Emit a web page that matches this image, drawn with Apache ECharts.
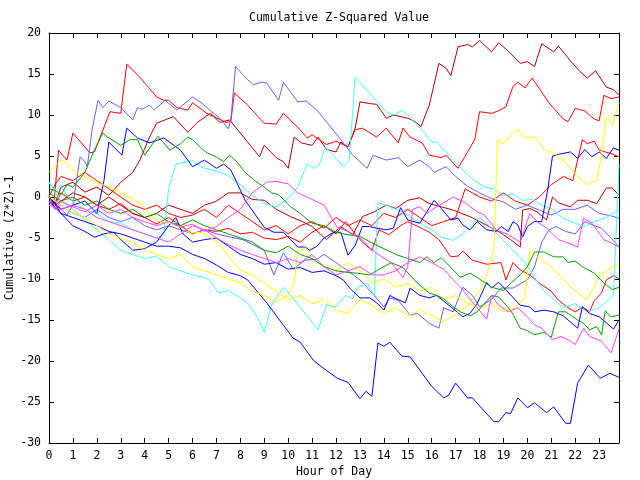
<!DOCTYPE html>
<html><head><meta charset="utf-8">
<script src="https://cdn.jsdelivr.net/npm/echarts@6/dist/echarts.min.js"></script>
<style>html,body{margin:0;padding:0;background:#fff}#c{width:640px;height:480px}</style>
</head><body><div id="c"></div>
<script>
// Each series: [hour, cumulative (Z*Z)-1]
const dr1 = [[0,0],[0.25,-0.8],[0.5,1.2],[1,1.8],[1.5,0.6],[2,1.2],[2.5,0.2],[3,1.8],[3.5,3],[3.8,4.5],[4.2,7.3],[4.5,9.0],[5.2,9.8],[5.8,7.9],[6.2,9.1],[6.75,10.2],[7.15,9.1],[7.55,9.4],[8.0,7.8],[8.5,6.0],[8.8,4.9],[9.0,6.3],[9.5,4.8],[9.8,4.3],[10.0,3.5],[10.25,7.3],[10.55,6.6],[11.0,6.3],[11.25,7.3],[11.6,5.8],[12.0,5.5],[12.2,6.7],[12.5,6.1],[12.8,8.4],[13.0,11.6],[13.4,11.4],[13.7,11.3],[14.1,9.6],[14.4,10.0],[15.0,9.6],[15.3,9.2],[15.55,8.6],[15.9,11.2],[16.3,16.3],[16.6,15.7],[16.8,14.8],[17.1,18.3],[17.5,18.6],[17.7,18.3],[18.0,19.1],[18.5,17.7],[18.8,18.8],[19.2,17.8],[19.7,16.3],[20.0,16.5],[20.3,15.9],[20.6,18.7],[21.1,17.7],[21.3,18.4],[21.8,16.6],[22.2,15.3],[22.5,14.5],[22.85,15.4],[23.3,13.4],[23.6,13.1],[23.83,12.4]];
const r1 = [[0,0],[0.2,-1],[0.4,5.7],[0.75,4.5],[1.0,7.8],[1.7,5.4],[1.9,5.5],[2.55,10.4],[3.0,10.2],[3.25,16.2],[3.8,14.6],[4.5,12.2],[4.8,11.8],[5.0,11.8],[5.35,10.9],[5.8,10.6],[6.0,11.5],[6.6,10.2],[7.4,9.1],[7.6,9.2],[7.75,12.7],[8.3,11.2],[9.0,9.0],[9.5,8.9],[9.8,10.2],[10.5,8.2],[10.8,7.2],[11.0,7.6],[11.3,7.0],[11.6,6.4],[12.0,6.8],[12.5,6.1],[12.8,8.2],[13.1,8.4],[13.7,7.3],[14.1,8.4],[14.6,6.6],[14.8,8.4],[15.1,7.3],[15.6,6.6],[15.9,5.1],[16.4,4.8],[16.6,5.1],[17.1,3.5],[17.3,4.5],[17.8,7],[18.0,10.4],[18.5,10.2],[18.8,10.5],[19.1,11],[19.4,13.5],[19.6,14.0],[19.9,13.3],[20.2,14.5],[20.9,11.5],[21.5,9.5],[21.7,9.2],[22.0,10.8],[22.4,10.5],[22.8,9.5],[23.0,9.3],[23.2,12.4],[23.5,12.0],[23.83,12.2]];
const r2 = [[0,0],[0.25,-1],[0.5,0.5],[1,-0.5],[1.5,0],[2,-1],[2.5,-1.5],[3,-0.8],[3.5,-2],[4,-2.5],[4.5,-3.3],[5,-2.5],[5.5,-3.5],[6,-4.5],[6.5,-4.0],[7,-4.2],[7.5,-3.8],[8,-4.5],[8.5,-4.3],[9,-5.0],[9.5,-5.2],[10,-4.8],[10.5,-5.5],[11,-4.3],[11.5,-3.5],[12,-4.5],[12.4,-3.0],[12.8,-4.5],[13.1,-5.5],[13.5,-6.5],[13.8,-4.0],[14.2,-4.6],[14.7,-3.5],[15,-3.0],[15.5,-3.7],[15.9,-4.3],[16.3,-5.2],[16.8,-7.3],[17.1,-7.2],[17.3,-6.6],[17.7,-7.7],[18.3,-8.2],[18.9,-8.0],[19.1,-10.1],[19.4,-8.0],[19.7,-8.9],[20.1,-9.5],[20.5,-10.5],[21.0,-11.5],[21.3,-12.6],[21.7,-13.5],[22.0,-14.0],[22.3,-13.4],[22.6,-14.0],[22.8,-12.6],[23.1,-11.7],[23.3,-10.1],[23.6,-9.6],[23.83,-10.0]];
const r3 = [[0,0],[0.25,1.5],[0.5,2.5],[1,2],[1.5,3],[2,2],[2.5,1],[3,0],[3.5,-1],[4,-1.5],[4.5,-1],[5,-2],[5.5,-2.5],[6,-2.2],[6.5,-1.5],[7,-2.5],[7.5,-1],[8,-2],[8.5,-3],[9,-4],[9.5,-3.5],[10,-4.5],[10.5,-3.5],[11,-3],[11.5,-3.8],[12,-2.5],[12.5,-3.5],[13,-2.8],[13.5,-3.5],[14,-2.0],[14.5,-2.5],[15,-1.5],[15.5,-2.5],[16,-3.5],[16.5,-3],[17,-2.5],[17.4,1.0],[18,0],[18.5,-0.5],[19,0.5],[19.5,-0.5],[20,-1],[20.5,0.0],[21,1.5],[21.5,2.5],[21.9,2.0],[22.1,4.5],[22.3,7.0],[22.5,6.5],[22.8,6.8],[23.0,5.7],[23.5,5.3],[23.83,4.9]];
const dr2 = [[0,0],[0.25,-1],[0.5,-0.5],[1,0.5],[1.5,0],[2,-1],[2.5,0],[3,-1],[3.5,-2],[4,-2.5],[4.5,-2],[5,-1],[5.5,-1.5],[6,-2],[6.5,-1],[7,-0.5],[7.5,0.5],[8,0.5],[8.5,-0.3],[9,-0.4],[9.5,-1.5],[10.1,-2.4],[10.6,-3.0],[11.0,-3.6],[11.6,-5.2],[11.9,-4.4],[12.2,-3.6],[12.7,-4.6],[13.1,-2.4],[13.6,-1.8],[14.1,-1.0],[14.5,-1.4],[15.0,-0.4],[15.5,-0.1],[15.9,-0.8],[16.4,-1.2],[16.9,-1.6],[17.6,-2.4],[18.0,-3.0],[18.4,-3.6],[18.9,-4.4],[19.3,-5.2],[19.7,-6.1],[19.8,-1.6],[20.1,-1.4],[20.4,-1.8],[20.8,-2.8],[21.05,0.0],[21.3,-0.7],[21.8,-1.2],[22.1,-0.4],[22.5,-0.4],[22.9,-0.8],[23.3,1.1],[23.55,1.1],[23.83,0.2]];
const sb1 = [[0,0],[0.25,-1],[0.5,-1.5],[0.75,-2.2],[1.0,-1],[1.3,4.9],[1.5,4.3],[1.6,3.7],[1.8,8.2],[2.05,11.8],[2.25,10.9],[2.5,11.7],[3.0,10.9],[3.5,9.4],[3.7,10.9],[3.9,10.7],[4.2,11.2],[4.4,10.6],[4.85,11.8],[5.35,10.6],[6.0,12.2],[6.45,11.3],[6.8,10.4],[7.15,9.6],[7.5,8.3],[7.6,9.4],[7.8,15.9],[8.3,14.3],[8.55,13.7],[8.9,14.0],[9.1,13.9],[9.6,11.8],[9.8,14.0],[10.4,11.6],[10.75,11.7],[11.2,10.6],[11.7,8.8],[12.2,7.0],[12.7,5.1],[13.3,3.5],[13.55,5.1],[14.1,4.5],[14.6,4.8],[15.0,3.7],[15.5,4.5],[15.9,3.7],[16.1,3.0],[16.6,3.7],[17.0,2.5],[17.5,1.3],[18.0,0.5],[18.5,-0.2],[19.0,-0.6],[19.5,-1.5],[20.0,-1.0],[20.5,-1.6],[21.0,-2.2],[21.5,-1.5],[22.0,-1.5],[22.5,-1.0],[23.0,-2.0],[23.5,-2.3],[23.83,-2.6]];
const sb2 = [[0,0],[0.25,-1.5],[0.5,-1],[1,-2],[1.5,-2.5],[2,-1.5],[2.5,-2.5],[3,-3],[3.5,-2.5],[4,-3.5],[4.5,-4],[5,-3.5],[5.5,-4],[6,-4.5],[6.5,-4],[7,-4.5],[7.6,-4.9],[8.1,-5.2],[9.0,-6.5],[9.4,-9.5],[9.8,-6.8],[10.2,-8.8],[10.7,-7.7],[11.2,-7.6],[11.5,-7.0],[12.0,-8.0],[12.5,-9.0],[13.0,-10.1],[13.5,-11.7],[14.0,-13.4],[14.25,-12.3],[14.6,-12.6],[15.1,-14.4],[15.4,-14.2],[15.9,-15.4],[16.3,-16.0],[16.5,-13.5],[16.9,-14.0],[17.3,-11.0],[17.7,-12.0],[18.0,-13.4],[18.5,-12.5],[18.9,-11.1],[19.4,-11.1],[20.0,-10.1],[20.3,-8.5],[20.6,-5.5],[20.9,-4.0],[21.2,-3.6],[21.6,-4.2],[22.0,-4.5],[22.4,-3.0],[22.8,-3.5],[23.1,-3.8],[23.5,-5.0],[23.83,-6.1]];
const c1 = [[0,1.8],[0.25,0.8],[0.5,1.5],[0.75,0.2],[1,-0.5],[1.5,-1.5],[2,-2],[2.5,-3],[3,-3.2],[3.5,-4],[4,-4.5],[4.5,-5],[4.8,-4.6],[5.0,1.0],[5.3,4.0],[5.6,4.2],[6.0,4.4],[6.4,3.6],[7,3.2],[7.5,2.6],[8,1.5],[8.5,0.2],[9,-0.8],[9.5,-1.2],[10,-0.2],[10.4,1.2],[10.8,4.1],[11.05,3.5],[11.3,3.9],[11.55,6.1],[11.8,5.4],[12.3,3.7],[12.55,4.5],[12.8,14.6],[13.55,12.2],[14.1,10.4],[14.4,10.0],[14.8,10.6],[15.1,9.6],[15.5,8.5],[16.0,6.7],[16.2,6.7],[16.6,5.5],[16.9,4.5],[17.3,3.3],[17.7,2.2],[18.2,1.2],[18.6,1.0],[19.0,0.2],[19.4,0.4],[19.8,-0.4],[20.2,-0.3],[20.6,-1.0],[21.0,-1.4],[21.5,-2.6],[22.0,-3.2],[22.4,-3.6],[22.8,-3.0],[23.2,-2.6],[23.5,-2.2],[23.83,-1.5]];
const c2 = [[0,1.8],[0.25,0.5],[0.5,-0.5],[1,-1.5],[1.5,-2.8],[2,-4],[2.5,-5.2],[3,-6.5],[3.5,-7],[4,-7.5],[4.5,-7.2],[5,-8.5],[5.5,-9],[6,-9.5],[6.5,-9.8],[6.7,-10.1],[7.1,-11.7],[7.5,-11.4],[8,-12.3],[8.3,-12.9],[8.7,-14.6],[9.0,-16.5],[9.3,-13.2],[9.8,-11.0],[10.0,-11.6],[10.6,-13.8],[11.25,-16.2],[11.6,-13.2],[12.0,-13.4],[12.4,-12.0],[12.7,-12.4],[12.9,-11.0],[13.3,-10.5],[13.6,-12],[13.75,-0.7],[14.1,-1.0],[14.5,-1.5],[15.0,-2.2],[15.5,-3.2],[16.0,-4.0],[16.4,-4.9],[16.9,-5.3],[17.3,-4.5],[17.6,-3.6],[18.0,-2.5],[18.4,-3.5],[18.9,-5.0],[19.4,-6.5],[19.9,-8.0],[20.3,-9.8],[20.7,-11.5],[21.1,-12.5],[21.5,-13.5],[22.0,-13.0],[22.5,-14.0],[23.0,-13.5],[23.4,-12.5],[23.6,-12.0],[23.83,4.0]];
const b1 = [[0,0],[0.5,-1.5],[1,-1],[1.5,-0.5],[2,-2],[2.3,2],[2.5,6.7],[3.05,5.1],[3.25,8.4],[3.7,7.2],[4.2,6.6],[4.8,7.2],[5.5,5.7],[6.0,3.7],[6.5,4.5],[7,3.5],[7.3,4.0],[7.6,3.3],[8.2,-0.4],[9.0,-3.7],[9.4,-4.3],[9.8,-4.3],[10.1,-5.2],[10.4,-6.1],[10.7,-6.1],[10.9,-6.5],[11.2,-6.0],[11.5,-5.0],[11.9,-4.3],[12.2,-4.3],[12.5,-7.1],[12.8,-5.9],[13.1,-3.6],[13.4,-3.6],[13.7,-3.8],[14.1,-4.0],[14.4,-3.8],[14.7,-1.3],[15.0,-2.8],[15.5,-3.2],[16.1,-0.4],[16.4,-1.4],[16.8,-2.8],[17.1,-2.6],[17.3,-3.4],[17.6,-4.0],[17.9,-3.0],[18.3,-4.0],[18.7,-4.2],[18.9,-3.6],[19.2,-4.2],[19.4,-3.0],[19.6,-3.4],[19.8,-4.9],[20.0,-3.6],[20.3,-3.0],[20.6,-3.0],[20.85,0.9],[21.05,5.0],[21.3,5.2],[21.8,5.5],[22.1,4.7],[22.4,5.8],[22.7,4.9],[23.0,5.5],[23.3,4.7],[23.6,6.0],[23.83,5.7]];
const b2 = [[0,-0.5],[0.5,-2],[1,-2.5],[1.5,-3],[2,-3.5],[2.5,-4.2],[3,-4.5],[3.5,-5],[4,-5.5],[4.5,-6],[5,-6],[5.5,-6.2],[6,-7],[6.5,-7.5],[7,-8.3],[7.5,-9.2],[8,-9.6],[8.3,-10.1],[9.1,-12.9],[10.2,-17.2],[10.5,-17.7],[11.05,-19.9],[11.3,-20.5],[12.05,-22.1],[12.5,-22.6],[13.0,-24.6],[13.25,-23.7],[13.5,-24.3],[13.75,-17.8],[14.0,-18.2],[14.25,-17.7],[14.75,-19.4],[15.1,-19.5],[15.5,-21.1],[15.8,-22.3],[16.0,-23.1],[16.5,-24.5],[16.7,-24.2],[17.0,-22.7],[17.5,-24.5],[17.7,-24.5],[18.6,-27.4],[18.8,-27.4],[19.1,-26.3],[19.3,-26.4],[19.6,-24.5],[20.0,-25.7],[20.3,-25.1],[20.8,-26.3],[21.1,-25.6],[21.6,-27.6],[21.8,-27.6],[22.1,-22.7],[22.55,-20.5],[23.05,-22.1],[23.45,-21.5],[23.83,-22.0]];
const b3 = [[0,0],[0.25,-0.8],[0.5,-2],[1,-3.5],[1.5,-4.2],[1.9,-4.9],[2.3,-4.5],[2.7,-4.3],[3,-5.2],[3.5,-6.5],[4,-6.3],[4.5,-5.5],[5,-3.5],[5.3,-2.5],[5.6,-4.5],[6,-5.5],[6.5,-5.2],[7,-5.0],[7.5,-6.0],[8,-7.0],[8.5,-7.5],[9,-8.2],[9.5,-8.0],[10,-8.8],[10.5,-8.6],[11,-9.2],[11.5,-9.0],[12,-9.6],[12.3,-10.1],[12.6,-11.2],[13.0,-12.3],[13.4,-12.3],[13.7,-12.9],[14.0,-13.8],[14.25,-12.0],[14.5,-12.4],[14.9,-12.9],[15.1,-11.1],[15.5,-12.0],[15.9,-12.3],[16.2,-12.0],[16.8,-13.4],[17.3,-14.6],[17.6,-14.2],[17.9,-13.0],[18.3,-10.4],[18.5,-11.1],[18.8,-10.4],[19.1,-11.3],[19.7,-13.2],[20.1,-13.4],[20.3,-14.0],[20.7,-13.8],[21.1,-14.0],[21.5,-14.5],[22.1,-16.0],[22.3,-13.4],[22.6,-14.2],[23.0,-14.6],[23.6,-16.1],[23.83,-15.0]];
const y1 = [[0,3],[0.5,4.5],[0.75,4.0],[1,3.3],[1.5,2.4],[2,1.7],[2.5,1.3],[3,0.5],[3.5,-0.2],[4,-1.2],[4.2,-2.2],[4.6,-3.0],[5.35,-3.4],[5.9,-4.4],[6.4,-4.3],[7.1,-5.6],[7.5,-7.3],[8.0,-8.9],[8.5,-9.5],[9,-10.5],[9.5,-11.5],[10,-12.5],[10.5,-12],[11,-13],[11.5,-12.5],[12,-13.8],[12.5,-14.2],[13,-12.5],[13.5,-13.2],[14,-14.2],[14.5,-13.5],[15,-14.5],[15.5,-13.8],[16,-14.5],[16.5,-15.2],[17,-14.3],[17.5,-13.2],[18,-11.5],[18.3,-9.5],[18.6,-6.5],[18.75,7.0],[19.0,6.5],[19.3,7.5],[19.6,8.3],[19.85,7.3],[20.3,7.3],[20.8,5.5],[21.05,5.5],[21.5,4.5],[21.8,3.5],[22.1,2.5],[22.5,1.5],[22.9,2.0],[23.1,5.0],[23.3,9.8],[23.55,8.8],[23.83,11.5]];
const y2 = [[0,0],[0.5,-1],[1,-2],[1.5,-2.5],[2,-3.5],[2.5,-4.5],[3,-5],[3.5,-5.5],[4,-6.5],[4.5,-7],[5,-7.5],[5.5,-7],[6,-8.5],[6.5,-9],[7,-9.5],[7.5,-10],[8,-10.5],[8.5,-11.5],[9,-12],[9.5,-12.8],[10,-12],[10.25,-10.5],[10.4,-6.5],[10.7,-6.2],[11,-7],[11.5,-8.5],[12,-9],[12.5,-8],[13,-9],[13.5,-10.5],[14,-10],[14.5,-11],[15,-10.5],[15.5,-11.5],[16,-11],[16.5,-12.5],[17,-12],[17.5,-13],[18,-13.5],[18.5,-13],[19,-14],[19.5,-13.5],[19.9,-12.3],[20.1,-6.5],[20.5,-7.5],[21,-8.5],[21.5,-10],[22,-11.5],[22.5,-12.5],[22.8,-11.0],[23.0,-9.5],[23.3,-9.0],[23.6,-8.5],[23.83,-8.0]];
const g1 = [[0,1.0],[0.25,0.8],[0.5,0.3],[0.75,1.5],[1,1.2],[1.5,3.0],[1.85,5.4],[2.25,7.8],[2.4,7.4],[3.0,6.3],[3.4,7.0],[3.7,7.0],[4.0,5.1],[4.55,7.4],[4.8,6.6],[5.05,5.7],[5.5,6.5],[5.8,7.3],[6.0,7.0],[6.3,6.1],[6.6,5.4],[7.05,4.8],[7.3,4.3],[7.55,5.1],[7.85,4.3],[8.2,3.0],[8.6,2.0],[9.0,1.2],[9.3,0.5],[9.6,0.3],[10.1,-1.2],[10.5,-2.0],[11,-3.2],[11.5,-3.5],[12,-4.3],[12.5,-4.6],[13,-4.8],[13.5,-5.6],[14,-6.3],[14.5,-7.0],[15,-7.5],[15.5,-8.0],[15.8,-7.3],[16.1,-8.0],[16.4,-7.4],[16.9,-8.9],[17.2,-9.8],[17.6,-9.3],[17.9,-9.8],[18.2,-10.4],[18.5,-11.0],[19.0,-11.4],[19.3,-10.5],[19.7,-9.5],[20.0,-8.5],[20.3,-6.7],[20.7,-6.7],[21.1,-7.3],[21.5,-7.3],[21.7,-8.0],[22.0,-7.8],[22.3,-8.5],[22.8,-9.3],[23.2,-10.5],[23.55,-11.3],[23.83,-11.0]];
const g2 = [[0,0.5],[0.5,-0.5],[1,0],[1.5,-1],[2,-0.5],[2.5,-1.5],[3,-2],[3.5,-1.5],[4,-2.5],[4.5,-2],[5,-3],[5.5,-3.5],[6,-2.8],[6.5,-3.5],[7,-4],[7.5,-4.5],[8,-5],[8.5,-5.5],[9,-6.5],[9.5,-6.8],[10,-6],[10.5,-7],[11,-7.5],[11.5,-8.5],[12,-9],[12.5,-9.2],[12.9,-9.3],[13.4,-9.5],[14.3,-8.0],[14.8,-8.6],[15.4,-10.5],[15.9,-11.7],[16.2,-12.0],[16.5,-12.4],[16.9,-13.4],[17.2,-14.0],[17.6,-14.5],[17.9,-14.0],[18.5,-12.0],[18.8,-12.2],[19.2,-13.5],[19.4,-14.3],[19.7,-16.0],[20.0,-16.3],[20.3,-16.8],[20.7,-16.5],[21.0,-17.1],[21.3,-14.0],[21.6,-14.0],[22.1,-15.0],[22.35,-15.4],[22.6,-16.2],[22.9,-15.8],[23.1,-16.8],[23.25,-13.9],[23.5,-14.6],[23.83,-14.4]];
const m1 = [[0,-1],[0.5,-1.5],[1,-1],[1.5,-1.5],[2,-2.5],[2.5,-3],[3,-3.5],[3.5,-4],[4,-4.5],[4.5,-5],[5,-5.5],[5.5,-4.5],[6,-3.5],[6.5,-4],[7,-5],[7.5,-5.8],[8,-6.5],[8.5,-7],[9,-7.5],[9.5,-8],[10,-7.5],[10.5,-8],[11,-7],[11.5,-8.5],[12,-9.5],[12.5,-9],[13,-8.5],[13.5,-9.5],[14,-9.5],[14.5,-9.0],[15,-8.0],[15.5,-7.3],[16,-8.0],[16.5,-8.8],[16.9,-10.1],[17.3,-11.3],[17.7,-12.8],[18.3,-14.9],[18.5,-12.0],[18.8,-13.2],[19.2,-14.0],[19.6,-13.5],[20.0,-14.6],[20.3,-15.6],[20.6,-16.0],[21.05,-17.4],[21.4,-17.0],[21.7,-17.4],[22.0,-18.0],[22.35,-16.0],[22.6,-17.0],[23.1,-17.6],[23.5,-19.0],[23.83,-16.1]];
const m2 = [[0,-0.5],[0.25,-1.5],[0.5,-0.5],[1,-1.2],[1.5,-1.8],[2,-1.0],[2.5,-2.0],[3,-1.5],[3.5,-2.5],[4,-3.0],[4.5,-3.5],[5,-3],[5.5,-3.7],[6,-3.3],[6.5,-4.2],[7,-3.6],[7.5,-2.5],[8,-1.5],[8.5,0.5],[9.1,1.8],[9.5,1.9],[10.0,1.6],[10.4,0.5],[11,-0.3],[11.5,-1.0],[12.05,-3.7],[12.5,-4.2],[13.1,-5.2],[13.5,-6.5],[14.3,-8.0],[14.8,-9.8],[15.0,-8.5],[15.2,-1.5],[15.5,-1.2],[15.8,-2.0],[16.2,-1.2],[16.9,0.0],[17.4,-0.7],[17.9,-1.8],[18.2,-2.2],[18.7,-4.0],[19.2,-4.6],[19.7,-5.5],[20.1,-2.0],[20.4,-3.0],[20.8,-3.8],[21.3,-5.2],[21.7,-5.6],[22.1,-6.1],[22.35,-2.6],[22.7,-3.2],[23.2,-5.2],[23.5,-5.6],[23.83,-6.1]];

const seriesNames = ['dr1','r1','r2','r3','dr2','sb1','sb2','c1','c2','b1','b2','b3','y1','y2','g1','g2','m1','m2'];
const seriesData = [dr1,r1,r2,r3,dr2,sb1,sb2,c1,c2,b1,b2,b3,y1,y2,g1,g2,m1,m2];
const seriesColors = ['#b00000','#ff0000','#ff0000','#ff0000','#b00000','#6060ff','#6060ff','#40ffff','#40ffff','#0000ff','#0000ff','#0000ff','#ffff00','#ffff00','#00a000','#00a000','#ff40ff','#ff40ff'];

const FONT = 'DejaVu Sans Mono';
const chart = echarts.init(document.getElementById('c'), null, {renderer:'canvas'});
const tickStyle = {show:true, inside:true, length:5, lineStyle:{color:'#000', width:1}};
const axisLineStyle = {show:true, onZero:false, lineStyle:{color:'#000', width:1}};
const labelStyle = {color:'#000', fontFamily:FONT, fontSize:11.5};
chart.setOption({
  animation:false,
  backgroundColor:'#fff',
  title:{text:'Cumulative Z-Squared Value', left:334, top:7, textAlign:'center',
    textStyle:{fontFamily:FONT, fontSize:11.5, fontWeight:'normal', color:'#000'}},
  grid:{left:49, right:21, top:33, bottom:37, containLabel:false, outerBoundsMode:'none'},
  xAxis:[
    {type:'value', min:0, max:23.83, interval:1, position:'bottom',
     axisLine:axisLineStyle, axisTick:tickStyle, splitLine:{show:false},
     axisLabel:Object.assign({margin:7, showMaxLabel:false, formatter:v=>Number.isInteger(v)?String(v):''}, labelStyle),
     name:'Hour of Day', nameLocation:'middle', nameGap:23, nameMoveOverlap:false, nameTextStyle:labelStyle},
    {type:'value', min:0, max:23.83, interval:1, position:'top',
     axisLine:axisLineStyle, axisTick:tickStyle, splitLine:{show:false}, axisLabel:{show:false}}
  ],
  yAxis:[
    {type:'value', min:-30, max:20, interval:5, position:'left',
     axisLine:axisLineStyle, axisTick:tickStyle, splitLine:{show:false},
     axisLabel:Object.assign({margin:8}, labelStyle),
     name:'Cumulative (Z*Z)-1', nameLocation:'middle', nameGap:33, nameRotate:90, nameMoveOverlap:false, nameTextStyle:labelStyle},
    {type:'value', min:-30, max:20, interval:5, position:'right',
     axisLine:axisLineStyle, axisTick:tickStyle, splitLine:{show:false}, axisLabel:{show:false}}
  ],
  series: seriesData.map((d,i)=>({
    name:seriesNames[i], type:'line', data:d, showSymbol:false, symbol:'none',
    lineStyle:{color:seriesColors[i], width:1}, itemStyle:{color:seriesColors[i]},
    silent:true, clip:true
  }))
});
</script></body></html>
